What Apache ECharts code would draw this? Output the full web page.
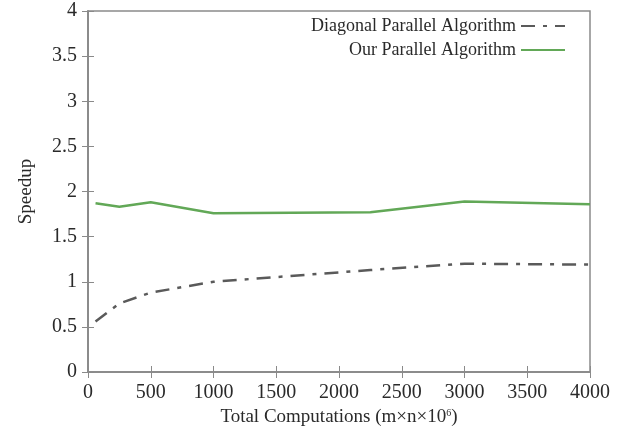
<!DOCTYPE html>
<html>
<head>
<meta charset="utf-8">
<script src="https://cdn.jsdelivr.net/npm/echarts@6/dist/echarts.min.js"></script>
<style>
html,body{margin:0;padding:0;background:#fff;}
#chart{width:623px;height:432px;}
</style>
</head>
<body>
<div id="chart"></div>
<script>
var xTicks = [0, 500, 1000, 1500, 2000, 2500, 3000, 3500, 4000];
var yTicks = [0, 0.5, 1, 1.5, 2, 2.5, 3, 3.5, 4];

var diagX = [60, 250, 500, 1000, 2250, 3000, 4000];
var diagY = [0.56, 0.76, 0.88, 1.0, 1.13, 1.2, 1.19];

var oursX = [60, 250, 500, 1000, 2250, 3000, 4000];
var oursY = [1.87, 1.83, 1.88, 1.76, 1.77, 1.89, 1.86];

var font = '"Liberation Serif", "DejaVu Serif", serif';
var axisColor = '#8a8a8a';
var textColor = '#2a2a2a';

var myChart = echarts.init(document.getElementById('chart'));

myChart.setOption({
    backgroundColor: '#fff',
    animation: false,
    textStyle: { fontFamily: font },
    grid: { left: 88, right: 33, top: 11, bottom: 60, show: true, borderColor: axisColor, borderWidth: 1.5 },
    legend: {
        right: 52, top: 12,
        orient: 'vertical',
        align: 'right',
        itemWidth: 44, itemHeight: 10, itemGap: 6,
        itemStyle: { opacity: 0 },
        textStyle: { fontFamily: font, fontSize: 18, color: textColor },
        data: ['Diagonal Parallel Algorithm', 'Our Parallel Algorithm']
    },
    xAxis: [{
        type: 'value',
        min: 0, max: 4000, interval: 500,
        name: 'Total Computations (m×n×10{sup|6})',
        nameLocation: 'middle', nameGap: 32,
        nameTextStyle: { fontFamily: font, fontSize: 19, color: textColor,
            rich: { sup: { fontFamily: font, fontSize: 10, verticalAlign: 'top', padding: [0, 0, 8, 0], color: textColor } } },
        axisLine: { lineStyle: { color: axisColor, width: 1.5 } },
        axisTick: { inside: true, length: 6, lineStyle: { color: axisColor } },
        axisLabel: { fontFamily: font, fontSize: 20, color: textColor, margin: 11,
            formatter: function (v) { return xTicks.indexOf(v) >= 0 ? String(v) : ''; } },
        splitLine: { show: false }
    }, {
        type: 'value', position: 'top',
        min: 0, max: 4000, interval: 500,
        axisLine: { lineStyle: { color: axisColor, width: 1.5 } },
        axisTick: { inside: true, length: 6, lineStyle: { color: axisColor } },
        axisLabel: { show: false },
        splitLine: { show: false }
    }],
    yAxis: [{
        type: 'value',
        min: 0, max: 4, interval: 0.5,
        name: 'Speedup',
        nameLocation: 'middle', nameGap: 52,
        nameTextStyle: { fontFamily: font, fontSize: 19, color: textColor },
        axisLine: { show: true, lineStyle: { color: axisColor, width: 1.5 } },
        axisTick: { show: true, inside: true, length: 6, lineStyle: { color: axisColor } },
        axisLabel: { fontFamily: font, fontSize: 20, color: textColor, margin: 11,
            formatter: function (v) { return yTicks.indexOf(v) >= 0 ? String(v) : ''; } },
        splitLine: { show: false }
    }, {
        type: 'value', position: 'right',
        min: 0, max: 4, interval: 0.5,
        axisLine: { show: true, lineStyle: { color: axisColor, width: 1.5 } },
        axisTick: { show: true, inside: true, length: 6, lineStyle: { color: axisColor } },
        axisLabel: { show: false },
        splitLine: { show: false }
    }],
    series: [{
        name: 'Diagonal Parallel Algorithm',
        type: 'line',
        symbol: 'none',
        color: '#5a5a5a',
        lineStyle: { color: '#5a5a5a', width: 2.5, type: [14, 8, 4, 8] },
        data: diagX.map(function (x, i) { return [x, diagY[i]]; })
    }, {
        name: 'Our Parallel Algorithm',
        type: 'line',
        symbol: 'none',
        color: '#62a857',
        lineStyle: { color: '#62a857', width: 2.5 },
        data: oursX.map(function (x, i) { return [x, oursY[i]]; })
    }]
});
</script>
</body>
</html>
